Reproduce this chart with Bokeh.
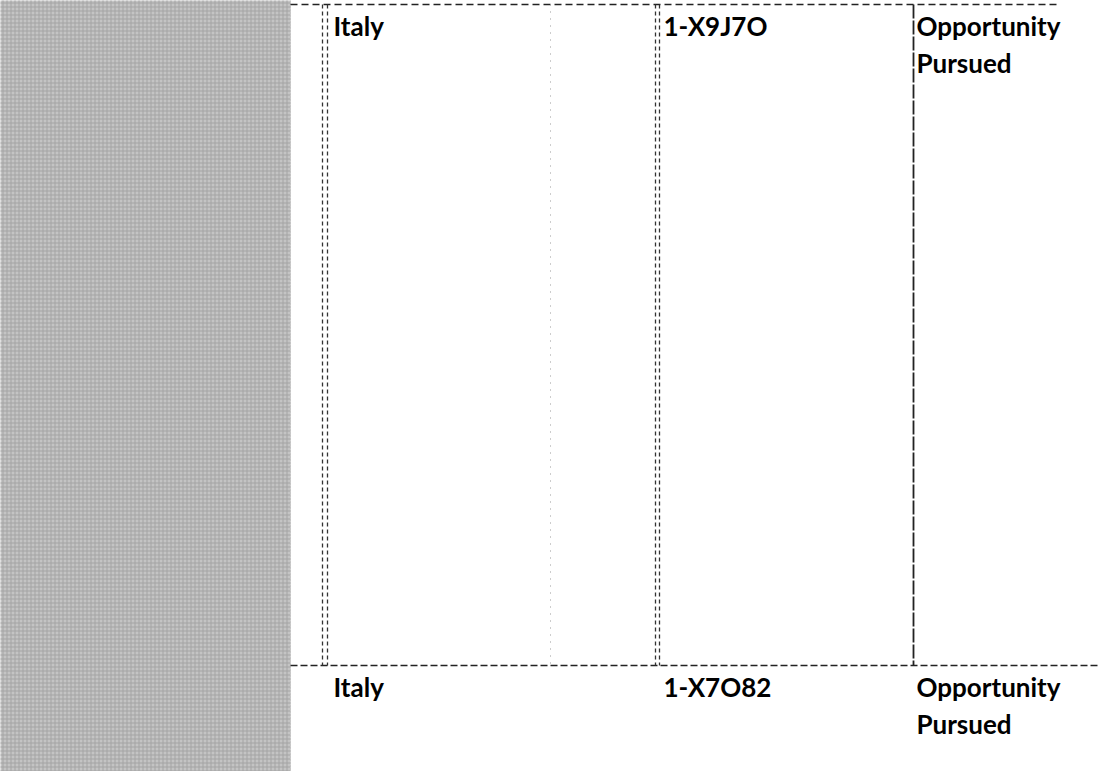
from bokeh.plotting import figure
from bokeh.models import Range1d
from bokeh.core.properties import value
from bokeh.embed import file_html
from bokeh.resources import INLINE

# ---- table content (read from the scanned page) ----
countries = ["Italy", "Italy"]
record_ids = ["1-X9J7O", "1-X7O82"]
statuses = ["Opportunity Pursued", "Opportunity Pursued"]

# ---- layout (page-pixel coordinates) ----
W, H = 1099, 771
row_tops = [4, 665]
col_lines = [322, 655, 913]
text_x = [333, 663, 916]
baseline_off = 21
line_gap = 37
font_px = "26px"
FONT = "Lato"

p = figure(width=W, height=H, output_backend="svg",
           toolbar_location=None, x_range=Range1d(0, W),
           y_range=Range1d(H, 0), min_border=0,
           x_axis_location=None, y_axis_location=None,
           background_fill_color="white", border_fill_color="white")
p.grid.visible = False
p.outline_line_color = None

# grey scanned margin panel on the left
p.quad(left=-10, right=290, bottom=H + 10, top=-10, fill_color="#c4c4c4",
       line_color=None, hatch_pattern="cross", hatch_color="#a4a4a4",
       hatch_scale=4, hatch_weight=1)
p.segment(x0=[290], y0=[0], x1=[290], y1=[H], line_color="#bdbdbd",
          line_width=1, line_dash="1 2")

# table rules
p.segment(x0=[290], y0=[4], x1=[1058], y1=[4], line_color="#222222",
          line_width=1.6, line_dash="7 4")
p.segment(x0=[290], y0=[row_tops[1]], x1=[W], y1=[row_tops[1]],
          line_color="#222222", line_width=1.6, line_dash="7 3")
# column rules in the first row
p.segment(x0=[col_lines[0], col_lines[0] + 5, col_lines[1], col_lines[1] + 4],
          y0=[4, 4, 4, 4],
          x1=[col_lines[0], col_lines[0] + 5, col_lines[1], col_lines[1] + 4],
          y1=[row_tops[1]] * 4,
          line_color="#333333", line_width=1.3, line_dash="4 3")
p.segment(x0=[550], y0=[4], x1=[550], y1=[row_tops[1]], line_color="#9a9a9a",
          line_width=1, line_dash="1 6")
p.segment(x0=[col_lines[2]], y0=[4], x1=[col_lines[2]], y1=[row_tops[1]],
          line_color="#222222", line_width=1.8, line_dash="14 2")

# cell texts
for r, top in enumerate(row_tops):
    base = top + baseline_off
    p.text(x=[text_x[0]], y=[base], text=[countries[r]], text_font=value(FONT),
           text_font_size=font_px, text_font_style="bold", text_color="black",
           text_baseline="alphabetic")
    p.text(x=[text_x[1]], y=[base], text=[record_ids[r]], text_font=value(FONT),
           text_font_size=font_px, text_font_style="bold", text_color="black",
           text_baseline="alphabetic")
    words = statuses[r].split(" ")
    p.text(x=[text_x[2]] * len(words), y=[base + i * line_gap for i in range(len(words))],
           text=words, text_font=value(FONT), text_font_size=font_px,
           text_font_style="bold", text_color="black", text_baseline="alphabetic")

open("out.html", "w").write(file_html(p, INLINE))
